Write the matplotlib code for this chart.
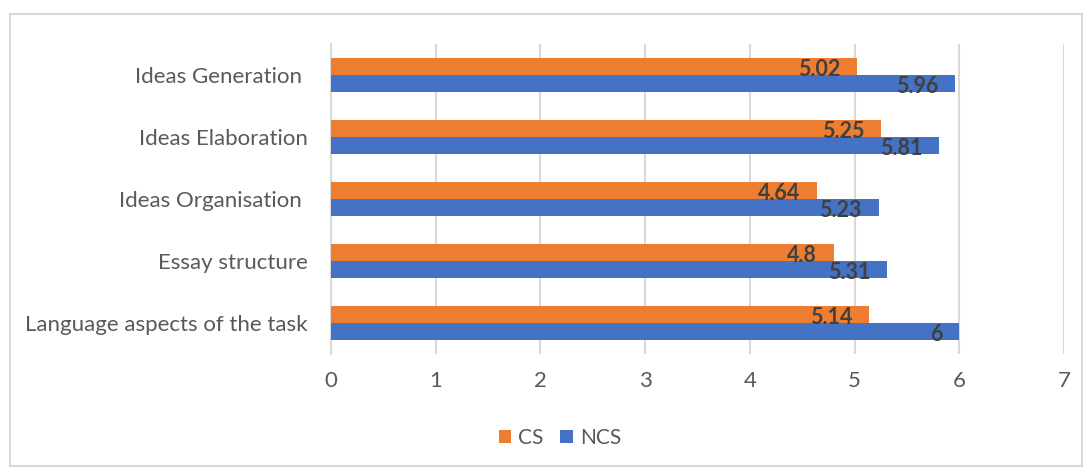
import numpy as np
import matplotlib.pyplot as plt
from matplotlib.patches import Rectangle

categories = ["Language aspects of the task", "Essay structure", "Ideas Organisation ",
              "Ideas Elaboration", "Ideas Generation "]
cs_values = [5.14, 4.8, 4.64, 5.25, 5.02]
ncs_values = [6, 5.31, 5.23, 5.81, 5.96]
x_ticks = [0, 1, 2, 3, 4, 5, 6, 7]

orange = "#ED7D31"
blue = "#4472C4"
grid_col = "#D9D9D9"
text_col = "#595959"

plt.rcParams['font.family'] = ['Lato', 'DejaVu Sans']

fig = plt.figure(figsize=(10.85, 4.68), dpi=100)
ax = fig.add_axes([331 / 1085, 1 - 354 / 468, (1064 - 331) / 1085, 310 / 468])

y = np.arange(len(categories))
h = 0.27
bars_ncs = ax.barh(y - h / 2, ncs_values, height=h, color=blue, label="NCS", zorder=3)
bars_cs = ax.barh(y + h / 2, cs_values, height=h, color=orange, label="CS", zorder=3)

for bars, vals in [(bars_cs, cs_values), (bars_ncs, ncs_values)]:
    for b, v in zip(bars, vals):
        ax.annotate(f"{v:g}", (v, b.get_y() + b.get_height() / 2),
                    xytext=(-12, -2), textcoords="offset points",
                    ha="right", va="center", fontsize=15.5, fontweight="bold",
                    color="#404040", zorder=4)

ax.set_xlim(0, 7)
ax.set_ylim(-0.5, len(categories) - 0.5)
ax.set_xticks(x_ticks)
ax.set_yticks(y)
ax.set_yticklabels(categories)
ax.tick_params(axis="both", length=0, labelsize=16, colors=text_col)
ax.tick_params(axis="x", pad=12)
ax.tick_params(axis="y", pad=17)
ax.grid(axis="x", color=grid_col, linewidth=1.5, zorder=0)
for s in ["top", "right", "bottom"]:
    ax.spines[s].set_visible(False)
ax.spines["left"].set_color(grid_col)
ax.spines["left"].set_linewidth(1.5)

handles = [bars_cs, bars_ncs]
fig.legend(handles, ["CS", "NCS"], loc="center", bbox_to_anchor=(560 / 1085, 1 - 438 / 468),
           ncol=2, frameon=False, fontsize=15, labelcolor=text_col,
           handlelength=0.6, handleheight=0.6, columnspacing=0.8, handletextpad=0.35)

fig.patches.append(Rectangle((10 / 1085, 2 / 468), 1072 / 1085, 452 / 468,
                             transform=fig.transFigure, fill=False,
                             edgecolor=grid_col, linewidth=1.5))

fig.savefig("out.png", dpi=100)
